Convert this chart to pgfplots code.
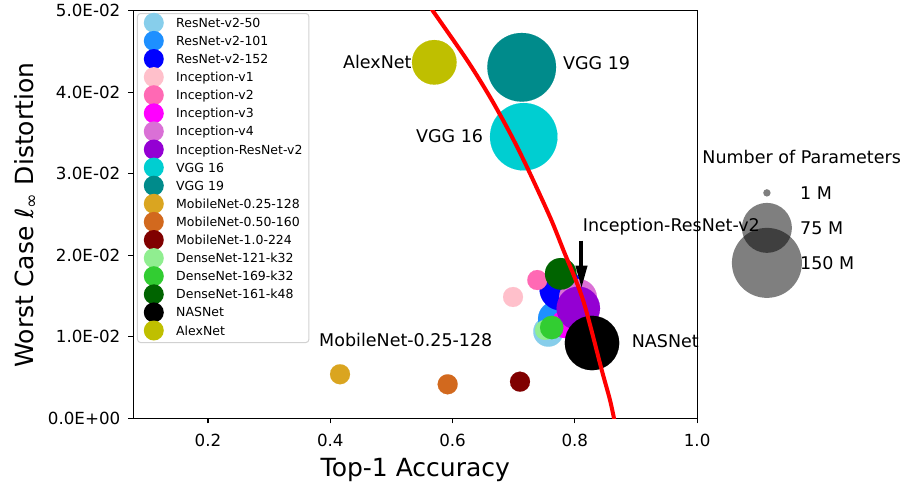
\documentclass[border=0pt]{standalone}
\usepackage{fontspec}
\setmainfont{DejaVu Sans}
\usepackage{pgfplots}
\pgfplotsset{compat=1.18}
\usetikzlibrary{arrows.meta}
\newcommand\fs[1]{\fontsize{#1}{#1}\selectfont}
\definecolor{cSkyblue}{HTML}{87CEEB}
\definecolor{cDodger}{HTML}{1E90FF}
\definecolor{cBlue}{HTML}{0000FF}
\definecolor{cPink}{HTML}{FFC0CB}
\definecolor{cHotpink}{HTML}{FF69B4}
\definecolor{cMagenta}{HTML}{FF00FF}
\definecolor{cOrchid}{HTML}{DA70D6}
\definecolor{cDarkviolet}{HTML}{9400D3}
\definecolor{cDarkturq}{HTML}{00CED1}
\definecolor{cDarkcyan}{HTML}{008B8B}
\definecolor{cGoldenrod}{HTML}{DAA520}
\definecolor{cChocolate}{HTML}{D2691E}
\definecolor{cMaroon}{HTML}{800000}
\definecolor{cLightgreen}{HTML}{90EE90}
\definecolor{cLimegreen}{HTML}{32CD32}
\definecolor{cDarkgreen}{HTML}{006400}
\definecolor{cOlive}{HTML}{BFBF00}
\definecolor{cRed}{HTML}{FF0000}
\pgfplotsset{
  lgc/.style={legend image code/.code={\path[draw=none,fill=none] (-10pt,-1pt) rectangle (10pt,1pt); \fill[overlay,draw=none,fill=#1] (0pt,1.35pt) circle (10pt);}},
  szc/.style={legend image code/.code={\path[draw=none,fill=none] (-4pt,-1pt) rectangle (4pt,1pt); \fill[overlay,draw=none,fill=black,fill opacity=0.5] (0pt,0pt) circle (#1);}},
  dot/.style 2 args={only marks, color=#1, mark=*, mark size=#2, mark options={solid, draw=#1, fill=#1, line width=0.1pt}, lgc=#1},
}
\begin{document}
\begin{tikzpicture}
\useasboundingbox (-133.5pt,-68.5pt) rectangle (771.5pt,418.5pt);
\begin{axis}[
  at={(0pt,0pt)}, anchor=south west,
  scale only axis, width=563.6pt, height=408pt,
  xmin=0.0781, xmax=1.0, ymin=0, ymax=0.05,
  clip mode=individual,
  axis line style={line width=1.1pt},
  tick style={line width=1.1pt, black},
  major tick length=5pt, tick pos=left, tick align=outside,
  xtick={0.2,0.4,0.6,0.8,1.0}, xticklabels={0.2,0.4,0.6,0.8,1.0},
  ytick={0,0.01,0.02,0.03,0.04,0.05},
  yticklabels={0.0E+00,1.0E-02,2.0E-02,3.0E-02,4.0E-02,5.0E-02},
  scaled y ticks=false,
  ticklabel style={font=\fs{16.7}, inner sep=0pt, text height=12.2pt, text depth=0pt},
  xticklabel style={anchor=north, yshift=-11pt},
  yticklabel style={anchor=east, xshift=-8pt},
  legend cell align=left,
  legend style={at={(axis description cs:0.00621,0.99387)}, anchor=north west,
    draw=black!18, line width=1pt, rounded corners=3pt, fill=white,
    font=\fs{12.5}, inner xsep=6.3pt, inner ysep=4.75pt, row sep=6.3pt, column sep=12.4pt,
    nodes={inner sep=0pt, text height=9.1pt, text depth=2.7pt}},
]
\addplot[dot={cSkyblue}{15pt}] coordinates {(0.7566,0.01064)};
\addlegendentry{ResNet-v2-50}
\addplot[dot={cDodger}{18pt}] coordinates {(0.7692,0.01219)};
\addlegendentry{ResNet-v2-101}
\addplot[dot={cBlue}{21.5pt}] coordinates {(0.7774,0.01587)};
\addlegendentry{ResNet-v2-152}
\addplot[dot={cPink}{10pt}] coordinates {(0.6989,0.01489)};
\addlegendentry{Inception-v1}
\addplot[dot={cHotpink}{10pt}] coordinates {(0.7386,0.01697)};
\addlegendentry{Inception-v2}
\addplot[dot={cMagenta}{14pt}] coordinates {(0.7839,0.01158)};
\addlegendentry{Inception-v3}
\addplot[dot={cOrchid}{19pt}] coordinates {(0.8052,0.01477)};
\addlegendentry{Inception-v4}
\addplot[dot={cDarkviolet}{21.7pt}] coordinates {(0.8057,0.01350)};
\addlegendentry{Inception-ResNet-v2}
\addplot[dot={cDarkturq}{33.7pt}] coordinates {(0.7164,0.03453)};
\addlegendentry{VGG 16}
\addplot[dot={cDarkcyan}{34.3pt}] coordinates {(0.7131,0.04304)};
\addlegendentry{VGG 19}
\addplot[dot={cGoldenrod}{10pt}] coordinates {(0.4159,0.00542)};
\addlegendentry{MobileNet-0.25-128}
\addplot[dot={cChocolate}{10pt}] coordinates {(0.5920,0.00419)};
\addlegendentry{MobileNet-0.50-160}
\addplot[dot={cMaroon}{10pt}] coordinates {(0.7103,0.00451)};
\addlegendentry{MobileNet-1.0-224}
\addplot[dot={cLightgreen}{10pt}] coordinates {(0.7512,0.01085)};
\addlegendentry{DenseNet-121-k32}
\addplot[dot={cLimegreen}{11.7pt}] coordinates {(0.7622,0.01115)};
\addlegendentry{DenseNet-169-k32}
\addplot[dot={cDarkgreen}{15.8pt}] coordinates {(0.7770,0.01773)};
\addlegendentry{DenseNet-161-k48}
\addplot[dot={black}{27.2pt}] coordinates {(0.8281,0.00925)};
\addlegendentry{NASNet}
\addplot[dot={cOlive}{22.3pt}] coordinates {(0.5701,0.04365)};
\addlegendentry{AlexNet}
\addplot[cRed, line width=4pt, smooth, forget plot] coordinates {
  (0.5627,0.0505) (0.5664,0.0501) (0.6236,0.04393) (0.6612,0.03940) (0.6939,0.03499)
  (0.7217,0.03082) (0.7594,0.02469) (0.7812,0.02065) (0.8134,0.01452)
  (0.8440,0.00594) (0.8575,0.00227) (0.8655,-0.0005)};
\node[anchor=base east, inner sep=0pt, font=\fs{17.5}] at (axis cs:0.5332,0.04292) {AlexNet};
\node[anchor=base west, inner sep=0pt, font=\fs{17.5}] at (axis cs:0.7806,0.04283) {VGG 19};
\node[anchor=base east, inner sep=0pt, font=\fs{17.5}] at (axis cs:0.6503,0.03385) {VGG 16};
\node[anchor=base west, inner sep=0pt, font=\fs{17.5}] at (axis cs:0.8930,0.00872) {NASNet};
\node[anchor=base west, inner sep=0pt, font=\fs{17.5}] at (axis cs:0.3816,0.00880) {MobileNet-0.25-128};
\node[anchor=base west, inner sep=0pt, font=\fs{17.5}] at (axis cs:0.8129,0.02289) {Inception-ResNet-v2};
\draw[line width=4pt, -{Triangle[width=11pt,length=23pt]}] (axis cs:0.8109,0.02181) -- (axis cs:0.8109,0.01593);
\end{axis}
\begin{axis}[
  at={(0pt,0pt)}, anchor=south west,
  scale only axis, width=563.6pt, height=408pt,
  xmin=0, xmax=1, ymin=0, ymax=1, hide axis,
  legend cell align=left,
  legend style={at={(axis description cs:1.1164,0.5691)}, anchor=north west,
    draw=none, fill=none, font=\fs{17.5}, inner sep=0pt, row sep=22.24pt, column sep=29.3pt,
    nodes={inner sep=0pt, text height=12.76pt, text depth=0pt}},
]
\addlegendimage{szc=3.7pt}
\addlegendentry{1 M}
\addlegendimage{szc=25pt}
\addlegendentry{75 M}
\addlegendimage{szc=35pt}
\addlegendentry{150 M}
\end{axis}
\node[anchor=base, inner sep=0pt, font=\fs{17.5}] at (668.2pt,255.2pt) {Number of Parameters};
\node[anchor=base, inner sep=0pt, font=\fs{25}] at (281.8pt,-58pt) {Top-1 Accuracy};
\node[anchor=base, inner sep=0pt, rotate=90, font=\fs{25}] at (-100.2pt,203.5pt) {Worst Case {\itshape ℓ}\textsubscript{∞} Distortion};
\end{tikzpicture}
\end{document}
